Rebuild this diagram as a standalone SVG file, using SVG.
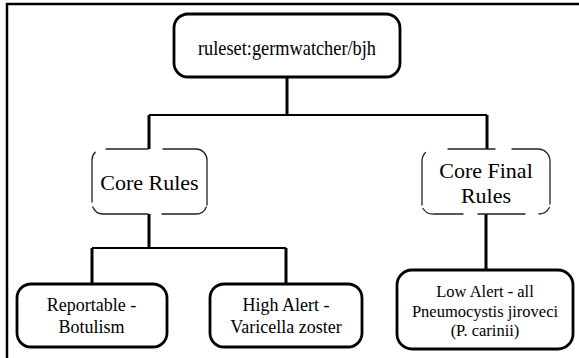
<svg xmlns="http://www.w3.org/2000/svg" width="579" height="358" viewBox="0 0 579 358">
<style>
  text { font-family: "Liberation Serif", "Times New Roman", serif; fill: #000; text-anchor: middle; }
  .box { fill: #fff; stroke: #000; stroke-width: 2.8; }
  .dash { fill: none; stroke: #222; stroke-width: 1.3; stroke-linecap: round; }
  .v { fill: none; stroke: #000; stroke-width: 3; }
  .h { fill: none; stroke: #000; stroke-width: 2; }
  .frame { fill: none; stroke: #000; stroke-width: 2.5; }
  .t22 { font-size: 22px; }
  .t18 { font-size: 18px; }
  .t16 { font-size: 16.5px; }
</style>
<rect x="0" y="0" width="579" height="358" fill="#fff"/>
<path class="frame" d="M7,360 V4 H581"/>

<g id="connectors">
  <path class="v" d="M287,77 V115"/>
  <path class="h" d="M149,115 H487"/>
  <path class="v" d="M149,115 V149"/>
  <path class="v" d="M487,115 V149"/>
  <path class="v" d="M149,214 V248"/>
  <path class="h" d="M92,248 H286"/>
  <path class="v" d="M92,248 V284"/>
  <path class="v" d="M286,248 V284"/>
  <path class="v" d="M486,214 V270"/>
</g>

<g id="n-root">
  <rect class="box" x="174" y="14" width="226" height="63" rx="14" ry="14"/>
  <text class="t22" x="287" y="55" font-size="21" textLength="178" lengthAdjust="spacingAndGlyphs">ruleset:germwatcher/bjh</text>
</g>

<g id="n-core">
  <path class="dash" d="M92,202 V160 A11,11 0 0 1 95.2,152.2 M106,149 H148 M163,149 H196 A11,11 0 0 1 207,160 V205 M206.3,207 A11,11 0 0 1 196,214 H162 M148,214 H103 A11,11 0 0 1 92.7,206.8"/>
  <text class="t22" x="149.5" y="190">Core Rules</text>
</g>

<g id="n-final">
  <path class="dash" d="M422,205 V161 A12,12 0 0 1 425.5,152.5 M448,149 H495 M512,149 H538 A12,12 0 0 1 550,161 V204 M549.4,207.5 A12,12 0 0 1 539,214 M525,214 H478 M463,214 H434 A12,12 0 0 1 423,208.5"/>
  <text class="t22" x="486" y="178">Core Final</text>
  <text class="t22" x="486" y="202.5">Rules</text>
</g>

<g id="n-report">
  <rect class="box" x="17" y="284" width="150" height="63" rx="14" ry="14"/>
  <text class="t18" x="91.5" y="310.5">Reportable -</text>
  <text class="t18" x="91.5" y="332.5">Botulism</text>
</g>

<g id="n-high">
  <rect class="box" x="210" y="284" width="152" height="63" rx="14" ry="14"/>
  <text class="t18" x="286" y="310.5">High Alert -</text>
  <text class="t18" x="286" y="332.5">Varicella zoster</text>
</g>

<g id="n-low">
  <rect class="box" x="397" y="270" width="176" height="79" rx="15" ry="15"/>
  <text class="t16" x="485" y="296.5">Low Alert - all</text>
  <text class="t16" x="485" y="316.5">Pneumocystis jiroveci</text>
  <text class="t16" x="485" y="336">(P. carinii)</text>
</g>
</svg>
